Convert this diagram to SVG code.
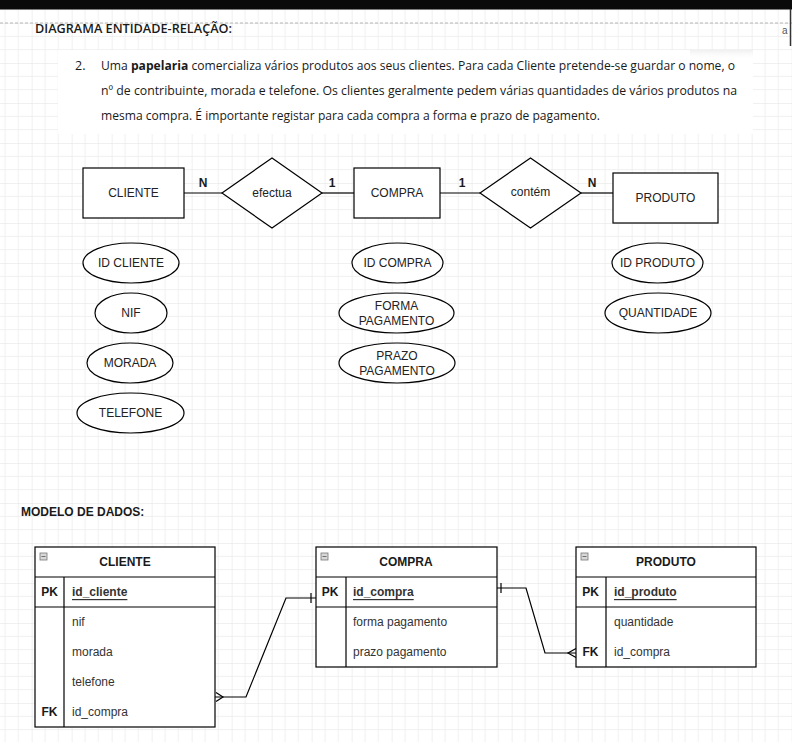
<svg xmlns="http://www.w3.org/2000/svg" width="792" height="742" viewBox="0 0 792 742">
  <defs>
    <pattern id="grid" x="31.67" y="23" width="40" height="40" patternUnits="userSpaceOnUse">
      <path d="M13.33 0V40M26.67 0V40M0 13.33H40M0 26.67H40" stroke="#f0f0f0" stroke-width="1" fill="none"/>
      <path d="M0 0V40M0 0H40" stroke="#e2e2e2" stroke-width="1" fill="none"/>
    </pattern>
    <linearGradient id="shade" x1="0" y1="0" x2="0" y2="1">
      <stop offset="0" stop-color="#e6e6e6"/>
      <stop offset="1" stop-color="#ffffff" stop-opacity="0"/>
    </linearGradient>
  </defs>
  <style>
    .t { font-family: "Liberation Sans", Arial, sans-serif; font-size: 12px; fill: #222; }
    .b { font-weight: bold; fill: #1a1a1a; }
    .c { text-anchor: middle; dominant-baseline: central; }
    .p { font-family: "Open Sans", "Liberation Sans", sans-serif; font-size: 12.5px; fill: #1a1a1a; }
    .ent { fill: #fff; stroke: #000; stroke-width: 1.2; }
    .attr { fill: #fff; stroke: #000; stroke-width: 1.2; }
    .tbl { fill: #fff; stroke: #000; stroke-width: 1.2; }
    .ln { fill: none; stroke: #000; stroke-width: 1.2; }
    .row { font-family: "Liberation Sans", Arial, sans-serif; font-size: 12px; fill: #333; dominant-baseline: central; }
    .icon { fill: #d8d8d8; stroke: #777; stroke-width: 0.8; }
  </style>

  <!-- canvas and grid -->
  <rect width="792" height="742" fill="#fff"/>
  <rect width="792" height="742" fill="url(#grid)"/>
  <rect x="0" y="0" width="792" height="9.5" fill="#0a0a0a"/>
  <line x1="0" y1="23" x2="792" y2="23" stroke="#b5b5b5" stroke-width="1" stroke-dasharray="3,2"/>
  <line x1="790.5" y1="9" x2="790.5" y2="46" stroke="#333" stroke-width="1.5"/>
  <text x="782" y="34" style="font-family:'Liberation Sans',sans-serif;font-size:10px;fill:#555">a</text>

  <!-- heading -->
  <text x="35" y="33" class="p" style="font-size:13px;font-weight:600" textLength="197" lengthAdjust="spacingAndGlyphs">DIAGRAMA ENTIDADE-RELAÇÃO:</text>

  <!-- statement box -->
  <rect x="58" y="50" width="695" height="84" fill="#fff"/>
  <rect x="690" y="50" width="63" height="10" fill="url(#shade)" opacity="0.6"/>
  <text x="75" y="70" class="p">2.</text>
  <text x="101" y="70" class="p" textLength="634" lengthAdjust="spacingAndGlyphs">Uma <tspan font-weight="bold">papelaria</tspan> comercializa vários produtos aos seus clientes. Para cada Cliente pretende-se guardar o nome, o</text>
  <text x="101" y="95" class="p" textLength="636" lengthAdjust="spacingAndGlyphs">nº de contribuinte, morada e telefone. Os clientes geralmente pedem várias quantidades de vários produtos na</text>
  <text x="101" y="120" class="p" textLength="499" lengthAdjust="spacingAndGlyphs">mesma compra. É importante registar para cada compra a forma e prazo de pagamento.</text>

  <!-- ER connectors -->
  <g id="er-connectors">
    <line class="ln" x1="184" y1="193" x2="222" y2="193"/>
    <line class="ln" x1="322" y1="193" x2="354" y2="193"/>
    <line class="ln" x1="440" y1="193" x2="480" y2="193"/>
    <line class="ln" x1="581" y1="193" x2="613" y2="193"/>
    <text x="203" y="183" class="t b c">N</text>
    <text x="332" y="183" class="t b c">1</text>
    <text x="462" y="183" class="t b c">1</text>
    <text x="592" y="183" class="t b c">N</text>
  </g>

  <!-- ER entities and relationships -->
  <g id="er-cliente">
    <rect class="ent" x="83" y="168" width="101" height="50"/>
    <text x="133.5" y="193" class="t c">CLIENTE</text>
  </g>
  <g id="er-efectua">
    <polygon class="ent" points="222,193 272,158 322,193 272,228"/>
    <text x="272" y="193" class="t c">efectua</text>
  </g>
  <g id="er-compra">
    <rect class="ent" x="354" y="168" width="86" height="50"/>
    <text x="397" y="193" class="t c">COMPRA</text>
  </g>
  <g id="er-contem">
    <polygon class="ent" points="480,193 530.5,158 581,193 530.5,228"/>
    <text x="530.5" y="192" class="t c">contém</text>
  </g>
  <g id="er-produto">
    <rect class="ent" x="613" y="173" width="105" height="50"/>
    <text x="665.5" y="198" class="t c">PRODUTO</text>
  </g>

  <!-- attributes -->
  <g id="attr-id-cliente">
    <ellipse class="attr" cx="131" cy="263" rx="48" ry="20"/>
    <text x="131" y="263" class="t c">ID CLIENTE</text>
  </g>
  <g id="attr-nif">
    <ellipse class="attr" cx="131" cy="313" rx="36" ry="20"/>
    <text x="131" y="313" class="t c">NIF</text>
  </g>
  <g id="attr-morada">
    <ellipse class="attr" cx="130" cy="363" rx="43" ry="20"/>
    <text x="130" y="363" class="t c">MORADA</text>
  </g>
  <g id="attr-telefone">
    <ellipse class="attr" cx="130.5" cy="413" rx="53.5" ry="20"/>
    <text x="130.5" y="413" class="t c">TELEFONE</text>
  </g>
  <g id="attr-id-compra">
    <ellipse class="attr" cx="397.5" cy="263" rx="45.5" ry="20"/>
    <text x="397.5" y="263" class="t c">ID COMPRA</text>
  </g>
  <g id="attr-forma-pagamento">
    <ellipse class="attr" cx="396.5" cy="313" rx="57.5" ry="20"/>
    <text x="396.5" y="306" class="t c">FORMA</text>
    <text x="396.5" y="320.5" class="t c">PAGAMENTO</text>
  </g>
  <g id="attr-prazo-pagamento">
    <ellipse class="attr" cx="397" cy="363" rx="58" ry="20"/>
    <text x="397" y="356" class="t c">PRAZO</text>
    <text x="397" y="370.5" class="t c">PAGAMENTO</text>
  </g>
  <g id="attr-id-produto">
    <ellipse class="attr" cx="657.5" cy="263" rx="45.5" ry="20"/>
    <text x="657.5" y="263" class="t c">ID PRODUTO</text>
  </g>
  <g id="attr-quantidade">
    <ellipse class="attr" cx="658" cy="313" rx="53" ry="20"/>
    <text x="658" y="313" class="t c">QUANTIDADE</text>
  </g>

  <!-- data model -->
  <text x="21" y="512" class="t b" style="dominant-baseline:central">MODELO DE DADOS:</text>

  <g id="tbl-cliente">
    <rect class="tbl" x="35" y="547" width="180" height="180"/>
    <line class="ln" x1="35" y1="577" x2="215" y2="577"/>
    <line class="ln" x1="35" y1="607" x2="215" y2="607"/>
    <line class="ln" x1="64" y1="577" x2="64" y2="727"/>
    <rect class="icon" x="40" y="553" width="7" height="7"/>
    <line x1="41.5" y1="556.5" x2="45.5" y2="556.5" stroke="#555" stroke-width="0.8"/>
    <text x="125" y="562" class="t b c">CLIENTE</text>
    <text x="49.5" y="592" class="t b c">PK</text>
    <text x="72" y="592" class="row b" text-decoration="underline">id_cliente</text>
    <text x="72" y="622" class="row">nif</text>
    <text x="72" y="652" class="row">morada</text>
    <text x="72" y="682" class="row">telefone</text>
    <text x="49.5" y="712" class="t b c">FK</text>
    <text x="72" y="712" class="row">id_compra</text>
  </g>

  <g id="tbl-compra">
    <rect class="tbl" x="316" y="547" width="181" height="120"/>
    <line class="ln" x1="316" y1="577" x2="497" y2="577"/>
    <line class="ln" x1="316" y1="607" x2="497" y2="607"/>
    <line class="ln" x1="346" y1="577" x2="346" y2="667"/>
    <rect class="icon" x="321" y="553" width="7" height="7"/>
    <line x1="322.5" y1="556.5" x2="326.5" y2="556.5" stroke="#555" stroke-width="0.8"/>
    <text x="406" y="562" class="t b c">COMPRA</text>
    <text x="330" y="592" class="t b c">PK</text>
    <text x="353" y="592" class="row b" text-decoration="underline">id_compra</text>
    <text x="353" y="622" class="row">forma pagamento</text>
    <text x="353" y="652" class="row">prazo pagamento</text>
  </g>

  <g id="tbl-produto">
    <rect class="tbl" x="576" y="547" width="180" height="120"/>
    <line class="ln" x1="576" y1="577" x2="756" y2="577"/>
    <line class="ln" x1="576" y1="607" x2="756" y2="607"/>
    <line class="ln" x1="606" y1="577" x2="606" y2="667"/>
    <rect class="icon" x="581" y="553" width="7" height="7"/>
    <line x1="582.5" y1="556.5" x2="586.5" y2="556.5" stroke="#555" stroke-width="0.8"/>
    <text x="666" y="562" class="t b c">PRODUTO</text>
    <text x="590.5" y="592" class="t b c">PK</text>
    <text x="614" y="592" class="row b" text-decoration="underline">id_produto</text>
    <text x="614" y="622" class="row">quantidade</text>
    <text x="590.5" y="652" class="t b c">FK</text>
    <text x="614" y="652" class="row">id_compra</text>
  </g>

  <!-- relational connectors -->
  <g id="connectors">
    <!-- CLIENTE.id_compra >— COMPRA.id_compra -->
    <polyline class="ln" points="215,697 246,697 286,598 316,598"/>
    <line class="ln" x1="311" y1="593" x2="311" y2="603"/>
    <polyline class="ln" points="216,692.5 223,697 216,701.5"/>
    <!-- COMPRA.id_compra —< PRODUTO.id_compra -->
    <polyline class="ln" points="497,588 526,588 545,653 576,653"/>
    <line class="ln" x1="501" y1="583" x2="501" y2="593"/>
    <polyline class="ln" points="576,648.5 568,653 576,657.5"/>
  </g>
</svg>
